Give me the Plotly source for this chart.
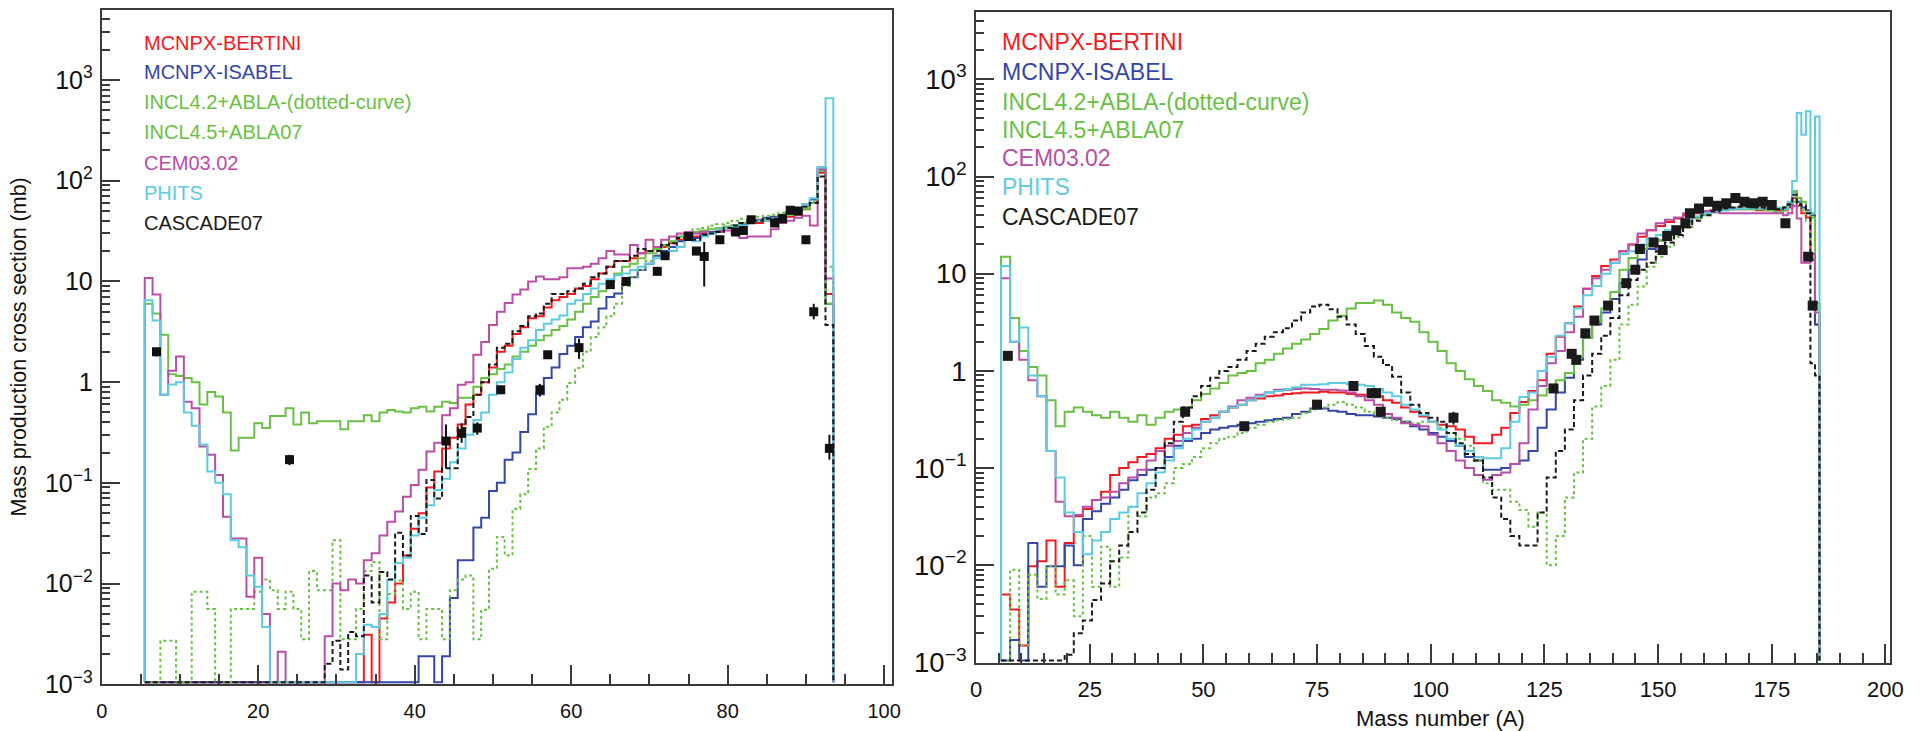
import plotly.graph_objects as go

# ---------------- LEFT PANEL DATA (bins centred on A = 6 ... 93, width 1) ----------------
A_left = list(range(6, 94))

red_L = [0,0,0,0,0,0,0,0,0,0,
         0,0,0,0,0,0,0,0,0,0,
         0,0,0,0,0,0,0,0,0.0031,0,
         0.0045,0.0065,0.010,0.019,0.035,0.05,0.09,0.13,0.22,0.28,
         0.38,0.6,0.75,1.0,1.4,2.0,2.3,3.0,3.5,4.3,
         4.5,5.5,6.5,7.0,7.5,8.5,9,10.5,12,14,
         16,16,17,19,20,21,22,24,26,27,
         28,30,31,32,34,35,37,38,38,40,
         40,42,44,46,52,60,120,7.5]
blue_L = [0,0,0,0,0,0,0,0,0,0,
          0,0,0,0,0,0,0,0,0,0,
          0,0,0,0,0,0,0,0,0,0,
          0,0,0,0,0,0.0019,0.0019,0,0.0019,0.0072,
          0.017,0.017,0.036,0.045,0.083,0.10,0.17,0.20,0.32,0.48,
          0.76,1.1,1.4,1.9,2.3,2.8,3.5,4.0,5.4,7.0,
          7.6,9.5,11,13,15,18,20,22,25,26,
          27,29,31,33,35,36,37,39,41,43,
          44,46,48,50,58,65,135,6]
incl42_L = [0,0,0.0027,0.0027,0,0,0.0083,0.0083,0.0056,0,
            0,0.0056,0.0056,0.0056,0.0083,0.011,0.0086,0.0056,0.0083,0.0056,
            0.0028,0.0133,0.0086,0.0086,0.027,0.0028,0.0028,0.0056,0.0133,0.0164,
            0.0028,0.0079,0.0107,0.0056,0.0083,0.0028,0.0056,0.0056,0.0028,0.0086,
            0.011,0.012,0.0028,0.0055,0.014,0.029,0.019,0.055,0.077,0.137,
            0.22,0.36,0.5,0.67,0.98,1.38,2.0,2.8,3.5,4.5,
            6,9,11,13,16,19,22,25,28,31,
            33,34,36,37,38,40,42,42,44,45,
            46,48,50,52,55,62,110,14]
incl45_L = [6,4.8,2.95,1.2,1.15,1.1,1.0,0.6,0.8,0.72,
            0.5,0.21,0.28,0.28,0.39,0.35,0.46,0.46,0.55,0.38,
            0.5,0.39,0.41,0.41,0.41,0.34,0.41,0.41,0.47,0.41,
            0.5,0.53,0.51,0.5,0.55,0.57,0.51,0.57,0.64,0.62,
            0.7,0.7,0.9,1.1,1.2,1.35,1.5,1.8,2.0,2.3,
            2.6,2.9,3.3,3.6,4.2,5,6,7,8,10,
            12,14,15,17,19,21,23,25,28,30,
            31,32,33,34,35,36,38,39,40,41,
            42,44,46,48,52,60,125,6]
cem_L = [10.8,7.4,0.75,1.3,1.8,0.64,0.55,0.23,0.19,0.12,
         0.046,0.028,0.028,0.0074,0.018,0.005,0,0.0021,0,0,
         0,0,0,0.003,0.010,0.0086,0.011,0.010,0.017,0.020,
         0.030,0.041,0.052,0.073,0.095,0.135,0.205,0.25,0.47,0.55,
         0.94,1.0,1.87,2.5,3.7,5.0,6.1,7.4,8.3,10,
         11.2,10.5,10.5,11,13.5,13.5,14,15,17,20,
         18.5,18.5,23,19,26,22,26,28,30,31,
         30,31,30,31,32,30,27,28,28,28,
         33,38,40,43,45,36,130,10.7]
phits_L = [6.5,4.1,0.75,0.95,1.0,0.5,0.37,0.24,0.13,0.10,
           0.077,0.027,0.023,0.012,0.0093,0.0037,0,0,0,0,
           0,0,0,0,0,0,0,0.002,0.0039,0.0037,
           0.005,0.011,0.016,0.018,0.030,0.045,0.060,0.085,0.11,0.16,
           0.22,0.30,0.42,0.50,0.75,1.0,1.25,1.7,2.2,2.6,
           3.3,3.8,4.2,4.6,6,6.5,7.5,8.5,9.5,10.5,
           11.5,12,13,14,15,17,18,20,22,26,
           25,28,30,33,34,35,36,38,40,40,
           42,45,48,52,58,67,135,660]
cascade_L = [0,0,0,0,0,0,0,0,0,0,
             0,0,0,0,0,0,0,0,0,0,
             0,0,0,0.0016,0.0027,0.0014,0.0033,0.003,0.012,0.0065,
             0.013,0.011,0.032,0.019,0.047,0.031,0.107,0.07,0.14,0.14,
             0.35,0.45,0.75,1.0,1.5,2.2,2.4,3.2,3.6,4.5,
             4.8,6,7.5,7.5,8,8.5,9.5,11,12,14,
             16,16,18,21,20,20,23,24,27,29,
             26,29,30,31,34,36,38,40,40,42,
             42,44,48,50,55,60,110,3.7]

exp_A_L = [7, 24, 44, 46, 48, 51, 56, 57, 61, 65, 67, 71, 72, 75, 76, 77, 79, 81, 82, 83,
           86, 87, 88, 89, 90, 91, 93]
exp_v_L = [2.0, 0.17, 0.26, 0.31, 0.35, 0.84, 0.84, 1.87, 2.2, 9.3, 10, 12.6, 18, 28, 20, 17.7,
           26, 31, 32, 41, 38, 42, 51, 50, 26, 5.0, 0.22]
exp_up_L = [0.2, 0.02, 0.12, 0.08, 0.05, 0.08, 0.12, 0.15, 0.5, 0.7, 0.8, 1.0, 1.4, 2.0, 1.6, 7.0,
            2.0, 2.4, 2.5, 3.0, 3.0, 3.0, 4.0, 4.0, 2.0, 1.0, 0.08]
exp_dn_L = [0.2, 0.02, 0.12, 0.06, 0.05, 0.08, 0.12, 0.15, 0.5, 0.7, 0.8, 1.0, 1.4, 2.0, 1.6, 8.8,
            2.0, 2.4, 2.5, 3.0, 3.0, 3.0, 4.0, 4.0, 2.0, 0.8, 0.05]

# ---------------- RIGHT PANEL DATA ----------------
# bins of width 2 from 5.5 to 177.5, then width 1 from 177.5 to 185.5
bin_width_R = [2] * 86 + [1] * 8
first_edge_R = 5.5

red_R = [0.005,0.0035,0.0015,0.0098,0.011,0.018,0.006,0.017,0.032,0.038,
         0.047,0.057,0.085,0.10,0.115,0.13,0.14,0.16,0.20,0.22,
         0.27,0.28,0.32,0.35,0.38,0.42,0.45,0.50,0.52,0.55,
         0.56,0.58,0.59,0.60,0.60,0.61,0.60,0.60,0.58,0.57,
         0.56,0.55,0.50,0.47,0.42,0.38,0.34,0.30,0.28,0.27,
         0.25,0.21,0.18,0.18,0.22,0.26,0.37,0.48,0.62,0.80,
         1.5,2.25,3.1,4.6,7.0,9.5,12,14,17,20,
         24,28,31,34,37,40,42,44,45,46,
         46,46,46,45,45,45,
         45,48,60,50,42,38,14,3]
blue_R = [0,0.0017,0,0.017,0.006,0.0098,0.0098,0.016,0.01,0.03,
          0.036,0.043,0.05,0.06,0.075,0.085,0.096,0.10,0.13,0.17,
          0.19,0.20,0.23,0.25,0.26,0.27,0.28,0.29,0.30,0.31,
          0.32,0.33,0.36,0.38,0.41,0.41,0.39,0.38,0.36,0.35,
          0.35,0.34,0.33,0.32,0.30,0.27,0.25,0.23,0.21,0.19,
          0.17,0.13,0.12,0.096,0.096,0.10,0.11,0.12,0.15,0.26,
          0.40,0.60,0.85,1.3,2.2,3.0,4.0,5.5,8.0,11,
          14,18,22,26,30,35,38,42,44,46,
          47,47,47,47,46,47,
          48,50,70,55,48,45,40,3]
incl45_R = [15,3.5,1.6,1.1,0.9,0.5,0.27,0.38,0.42,0.38,
            0.35,0.33,0.38,0.33,0.30,0.35,0.28,0.33,0.38,0.40,
            0.42,0.50,0.58,0.66,0.75,0.90,0.95,1.0,1.2,1.3,
            1.5,1.7,1.9,2.1,2.4,2.7,3.3,3.7,4.4,5.0,
            5.0,5.3,4.8,4.0,3.5,3.2,2.5,2.0,1.6,1.2,
            1.0,0.82,0.70,0.62,0.50,0.47,0.43,0.45,0.50,0.56,
            0.65,0.80,0.95,1.4,2.2,3.2,4.4,6.5,11,14.5,
            18,20,22,25,29,34,38,41,43,45,
            46,46,46,46,45,43,
            48,53,70,60,55,42,38,5]
incl42_R = [0,0.009,0.0015,0.008,0.0045,0.0098,0.005,0.007,0.003,0.02,
            0.006,0.0155,0.006,0.012,0.04,0.032,0.05,0.055,0.07,0.10,
            0.11,0.13,0.16,0.18,0.20,0.21,0.23,0.26,0.28,0.30,
            0.31,0.32,0.33,0.37,0.40,0.42,0.45,0.48,0.45,0.42,
            0.38,0.35,0.33,0.31,0.30,0.29,0.30,0.30,0.26,0.23,
            0.20,0.17,0.12,0.07,0.06,0.06,0.045,0.037,0.025,0.035,
            0.01,0.02,0.05,0.09,0.2,0.43,0.7,1.3,3.0,4.8,
            7.4,11.8,15,19,24,30,36,40,44,46,
            47,48,48,48,48,47,
            45,48,55,50,45,35,20,4]
cem_R = [9,2.0,1.3,0.8,0.55,0.15,0.045,0.032,0.033,0.04,
         0.047,0.05,0.057,0.07,0.08,0.096,0.12,0.15,0.17,0.19,
         0.23,0.26,0.30,0.33,0.38,0.43,0.50,0.53,0.57,0.60,
         0.64,0.64,0.65,0.66,0.65,0.64,0.64,0.63,0.60,0.55,
         0.50,0.45,0.36,0.33,0.29,0.28,0.27,0.22,0.18,0.15,
         0.12,0.10,0.085,0.076,0.085,0.09,0.11,0.18,0.40,0.70,
         1.2,1.6,2.5,3.6,7.0,9.0,11,13,17,20,
         26,28,33,36,38,42,44,44,43,42,
         42,42,42,42,42,42,
         40,42,50,37,13,13,16,4]
phits_R = [12,2.0,2.8,0.9,0.55,0.15,0.08,0.035,0.022,0.013,
           0.018,0.022,0.03,0.035,0.04,0.055,0.07,0.09,0.12,0.16,
           0.20,0.25,0.30,0.33,0.38,0.42,0.45,0.50,0.55,0.60,
           0.62,0.65,0.68,0.72,0.72,0.73,0.75,0.75,0.73,0.72,
           0.70,0.65,0.60,0.55,0.45,0.40,0.35,0.30,0.25,0.20,
           0.17,0.15,0.13,0.126,0.126,0.16,0.30,0.54,0.60,1.0,
           1.4,2.3,3.1,4.4,6.0,7.5,10,13,16,17,
           20,23,25,28,30,35,39,42,44,45,
           46,47,47,47,47,48,
           46,55,90,450,270,470,42,415]
cascade_R = [0,0,0,0,0,0,0,0.0012,0.002,0.0027,
             0.0044,0.0065,0.011,0.016,0.022,0.035,0.06,0.10,0.18,0.30,
             0.42,0.55,0.70,0.85,1.0,1.1,1.3,1.6,1.9,2.25,
             2.5,2.75,3.3,4.0,4.6,4.8,4.3,3.6,3.0,2.4,
             1.8,1.4,1.15,0.87,0.6,0.45,0.37,0.33,0.3,0.23,
             0.18,0.14,0.12,0.08,0.05,0.03,0.02,0.016,0.016,0.035,
             0.08,0.15,0.25,0.5,0.9,1.5,2.3,3.5,6.0,8.6,
             11,13,17,21,25,30,35,40,44,47,
             48,49,49,48,47,46,
             48,52,65,52,50,42,1.2,0.9]

exp_A_R = [7, 46, 59, 75, 83, 87, 88, 89, 105, 127, 131, 132, 134, 136, 139, 143, 145, 146, 149, 151,
           152, 154, 156, 157, 159, 161, 163, 165, 167, 169, 171, 173, 175, 178, 183, 184]
exp_v_R = [1.43, 0.38, 0.27, 0.45, 0.70, 0.59, 0.59, 0.38, 0.33, 0.66, 1.5, 1.3, 2.44, 3.3, 4.7, 8, 11,
           18, 21, 17.6, 24.5, 28, 33, 42, 47, 55, 50, 53, 60, 55, 53, 55, 51, 33, 15, 4.7]
exp_err_R = [0.1, 0.04, 0.03, 0.04, 0.08, 0.05, 0.05, 0.04, 0.05, 0.06, 0.15, 0.12, 0.2, 0.3, 0.4, 0.6,
             0.8, 1.2, 1.5, 1.2, 1.8, 2, 2.4, 3, 3.4, 4, 3.6, 3.8, 4.4, 4, 3.8, 4, 3.7, 2.4, 1.1, 0.35]

legend_names = ["MCNPX-BERTINI", "MCNPX-ISABEL", "INCL4.2+ABLA-(dotted-curve)", "INCL4.5+ABLA07",
                "CEM03.02", "PHITS", "CASCADE07"]

# ---------------- STYLE ----------------
RED, BLUE, GREEN, MAG, CYAN, BLK = "#f21a20", "#3446a8", "#6abf45", "#b84ea6", "#5ecbe0", "#1a1a1a"
legend_colors = [RED, BLUE, GREEN, GREEN, MAG, CYAN, BLK]
FONT = "Liberation Sans, Arial, Helvetica, sans-serif"
FLOOR = 1.05e-3
W, H = 1927, 731

for arr in (red_L, blue_L, incl42_L, incl45_L, cem_L, phits_L, cascade_L):
    assert len(arr) == len(A_left), len(arr)
for arr in (red_R, blue_R, incl42_R, incl45_R, cem_R, phits_R, cascade_R):
    assert len(arr) == len(bin_width_R), len(arr)

edges_L = [a - 0.5 for a in A_left] + [A_left[-1] + 0.5]
edges_R = [first_edge_R]
for w in bin_width_R:
    edges_R.append(edges_R[-1] + w)


def steps(edges, vals):
    xs, ys = [edges[0]], [FLOOR]
    for e, v in zip(edges[:-1], vals):
        xs.append(e)
        ys.append(v if v > 0 else FLOOR)
    xs += [edges[-1], edges[-1]]
    ys += [ys[-1], FLOOR]
    return xs, ys


fig = go.Figure()

series_style = [
    (RED, "solid"), (BLUE, "solid"), (GREEN, "3px,3px"), (GREEN, "solid"),
    (MAG, "solid"), (CYAN, "solid"), (BLK, "5px,3px"),
]
left_sets = [red_L, blue_L, incl42_L, incl45_L, cem_L, phits_L, cascade_L]
right_sets = [red_R, blue_R, incl42_R, incl45_R, cem_R, phits_R, cascade_R]

for (col, dash), vals in zip(series_style, left_sets):
    xs, ys = steps(edges_L, vals)
    fig.add_trace(go.Scatter(x=xs, y=ys, mode="lines", line=dict(color=col, width=2, dash=dash, shape="hv"),
                             xaxis="x", yaxis="y", showlegend=False, hoverinfo="skip"))
for (col, dash), vals in zip(series_style, right_sets):
    xs, ys = steps(edges_R, vals)
    fig.add_trace(go.Scatter(x=xs, y=ys, mode="lines", line=dict(color=col, width=2, dash=dash, shape="hv"),
                             xaxis="x2", yaxis="y2", showlegend=False, hoverinfo="skip"))

fig.add_trace(go.Scatter(x=exp_A_L, y=exp_v_L, mode="markers",
                         marker=dict(symbol="square", size=9, color="#111111"),
                         error_y=dict(type="data", symmetric=False, array=exp_up_L, arrayminus=exp_dn_L,
                                      color="#111111", thickness=2, width=0),
                         xaxis="x", yaxis="y", showlegend=False))
fig.add_trace(go.Scatter(x=exp_A_R, y=exp_v_R, mode="markers",
                         marker=dict(symbol="square", size=10, color="#1a1a1a"),
                         error_y=dict(type="data", array=exp_err_R, color="#1a1a1a", thickness=2, width=0),
                         xaxis="x2", yaxis="y2", showlegend=False))

AX = "#3a3a3a"


def xax(domain, rng, dtick, size, anchor, standoff):
    return dict(domain=domain, range=rng, dtick=dtick, tick0=0, anchor=anchor,
                showline=True, mirror=True, linecolor=AX, linewidth=2,
                ticks="inside", ticklen=19, tickwidth=2, tickcolor=AX,
                minor=dict(ticks="inside", ticklen=10, tickwidth=1.5, tickcolor=AX, dtick=5, showgrid=False),
                showgrid=False, zeroline=False, ticklabelstandoff=standoff,
                tickfont=dict(family=FONT, size=size, color="#111"))


def yax(domain, rng, size, anchor, title=None):
    d = dict(domain=domain, range=rng, type="log", dtick=1, tick0=0, anchor=anchor,
             exponentformat="power", showexponent="all",
             showline=True, mirror=True, linecolor=AX, linewidth=2,
             ticks="inside", ticklen=18, tickwidth=2, tickcolor=AX,
             minor=dict(ticks="inside", ticklen=8, tickwidth=1.5, tickcolor=AX, dtick="D1", showgrid=False),
             showgrid=False, zeroline=False, ticklabelstandoff=3,
             tickfont=dict(family=FONT, size=size, color="#111"))
    if title:
        d["title"] = dict(text=title, standoff=12, font=dict(family=FONT, size=21.5, color="#111"))
    return d


fig.update_layout(
    width=W, height=H, margin=dict(l=0, r=0, t=0, b=0, autoexpand=False),
    paper_bgcolor="white", plot_bgcolor="white",
    xaxis=xax([101.7 / W, 892 / W], [0, 101], 20, 20, "y", 8),
    yaxis=yax([1 - 684.3 / H, 1 - 9.5 / H], [-3, 3.70], 20, "x", "Mass production cross section (mb)"),
    xaxis2=xax([976 / W, 1890 / W], [0, 201], 25, 22, "y2", 6),
    yaxis2=yax([1 - 662.5 / H, 1 - 12.3 / H], [-3, 3.69], 22, "x2"),
)

ann = []
left_leg_y = [43, 72, 102, 132, 163, 193, 223]
right_leg_y = [42, 72, 102, 130, 158, 187, 217]
for name, col, yl, yr in zip(legend_names, legend_colors, left_leg_y, right_leg_y):
    ann.append(dict(x=142 / W, y=1 - yl / H, xref="paper", yref="paper", text=name, showarrow=False,
                    xanchor="left", yanchor="middle", font=dict(family=FONT, size=20, color=col)))
    ann.append(dict(x=1000 / W, y=1 - yr / H, xref="paper", yref="paper", text=name, showarrow=False,
                    xanchor="left", yanchor="middle", font=dict(family=FONT, size=23, color=col)))
ann.append(dict(x=1440 / W, y=1 - 718 / H, xref="paper", yref="paper", text="Mass number (A)",
                showarrow=False, xanchor="center", yanchor="middle",
                font=dict(family=FONT, size=22, color="#111")))
fig.update_layout(annotations=ann)

fig.write_html(
    "out.html",
    config={"responsive": False},
    post_script=("document.documentElement.style.margin='0';document.body.style.margin='0';"
                 "document.documentElement.style.overflow='hidden';document.body.style.overflow='hidden';"),
)
